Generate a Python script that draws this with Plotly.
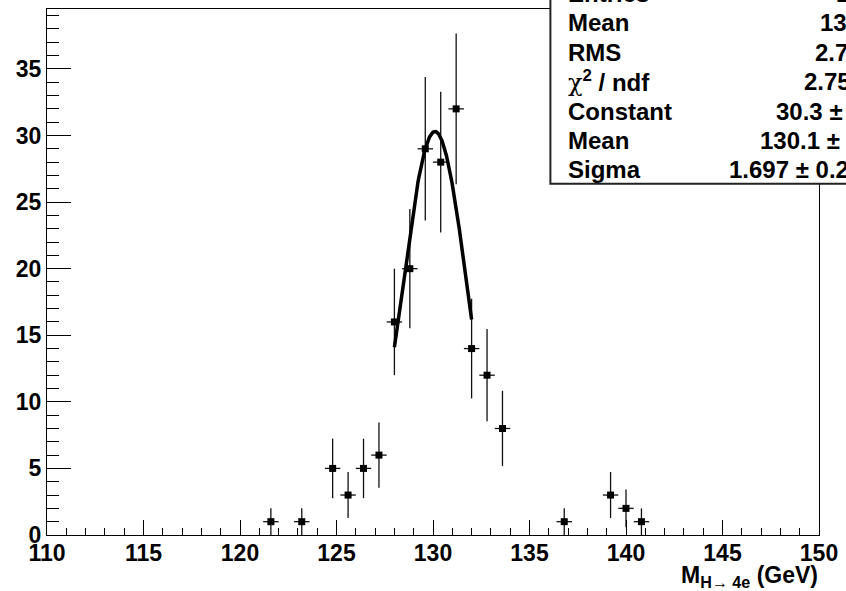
import numpy as np
import plotly.graph_objects as go

# Histogram of reconstructed H -> 4e invariant mass (bin width 0.8 GeV)
bin_centers = [121.6, 123.2, 124.8, 125.6, 126.4, 127.2, 128.0, 128.8, 129.6,
               130.4, 131.2, 132.0, 132.8, 133.6, 136.8, 139.2, 140.0, 140.8]
counts = [1, 1, 5, 3, 5, 6, 16, 20, 29, 28, 32, 14, 12, 8, 1, 3, 2, 1]
bin_half_width = 0.4

# Gaussian fit result
fit_constant = 30.3
fit_mean = 130.1
fit_sigma = 1.697
fit_range = (128.0, 132.0)

# Statistics box rows: (label, value text)
stats_rows = [
    ("Entries", "187"),
    ("Mean", "130.3"),
    ("RMS", "2.763"),
    ("<span style=\"font-family:'DejaVu Serif';font-weight:normal\">χ</span><sup>2</sup> / ndf", "2.754 / 3"),
    ("Constant", "30.3 ± 3.4"),
    ("Mean", "130.1 ± 0.1"),
    ("Sigma", "1.697 ± 0.231"),
]

x_range = [110, 150]
y_range = [0, 39.5]

errors = np.sqrt(np.array(counts, dtype=float))

fit_x = np.linspace(fit_range[0], fit_range[1], 200)
fit_y = fit_constant * np.exp(-0.5 * ((fit_x - fit_mean) / fit_sigma) ** 2)

FONT = "Liberation Sans, Arial, sans-serif"
TICK_SIZE = 23
STATS_SIZE = 24

fig = go.Figure()
fig.add_trace(go.Scatter(
    x=bin_centers, y=counts, mode="markers",
    marker=dict(symbol="square", size=7, color="black"),
    error_y=dict(type="data", array=errors, width=0, thickness=1.3, color="#111"),
    error_x=dict(type="constant", value=bin_half_width, width=0, thickness=1.3, color="#111"),
    showlegend=False, hoverinfo="x+y",
))
fig.add_trace(go.Scatter(
    x=fit_x, y=fit_y, mode="lines",
    line=dict(color="black", width=3.5),
    showlegend=False, hoverinfo="skip",
))

# Plot area in pixels
L, R, T, B = 47, 823, 8, 535
W_FIG, H_FIG = 846, 591
pw, ph = R - L, B - T


def fx(px):
    return (px - L) / pw


def fy(py):
    return (B - py) / ph


axis_common = dict(
    showgrid=False, zeroline=False, showline=True, mirror=True,
    linecolor="black", linewidth=1, ticks="inside", tickcolor="black",
    tickwidth=1, tickfont=dict(family=FONT, size=TICK_SIZE, color="black", weight="bold"),
)
fig.update_xaxes(range=x_range, dtick=5, tick0=110, ticklen=15, ticklabelstandoff=-3,
                 minor=dict(dtick=1, ticklen=7, ticks="inside", tickcolor="black"),
                 **axis_common)
fig.update_yaxes(range=y_range, dtick=5, tick0=0, ticklen=24,
                 minor=dict(dtick=1, ticklen=12, ticks="inside", tickcolor="black"),
                 **axis_common)

# Statistics box
fig.add_shape(type="rect", xref="paper", yref="paper",
              x0=fx(553), x1=fx(900), y0=fy(183), y1=fy(-20),
              line=dict(color="#222", width=2), fillcolor="white", layer="above")

value_starts = [838, 822, 817, 806, 778, 762, 731]
row0, row_step = -7.4, 29.4
for i, (label, value) in enumerate(stats_rows):
    y = fy(row0 + i * row_step)
    fig.add_annotation(xref="paper", yref="paper", x=fx(569), y=y,
                       xanchor="left", yanchor="middle", showarrow=False,
                       text=label, font=dict(family=FONT, size=STATS_SIZE, color="black", weight="bold"))
    fig.add_annotation(xref="paper", yref="paper", x=fx(value_starts[i]), y=y,
                       xanchor="left", yanchor="middle", showarrow=False,
                       text=value, font=dict(family=FONT, size=STATS_SIZE, color="black", weight="bold"))

# X axis title
fig.add_annotation(xref="paper", yref="paper", x=fx(824), y=fy(577),
                   xanchor="right", yanchor="middle", showarrow=False,
                   text="M<sub>H→ 4e</sub> (GeV)",
                   font=dict(family=FONT, size=TICK_SIZE, color="black", weight="bold"))

fig.update_layout(
    width=W_FIG, height=H_FIG,
    margin=dict(l=L, r=W_FIG - R, t=T, b=H_FIG - B, pad=0),
    paper_bgcolor="white", plot_bgcolor="white",
    showlegend=False,
)

fig.write_html("out.html")
